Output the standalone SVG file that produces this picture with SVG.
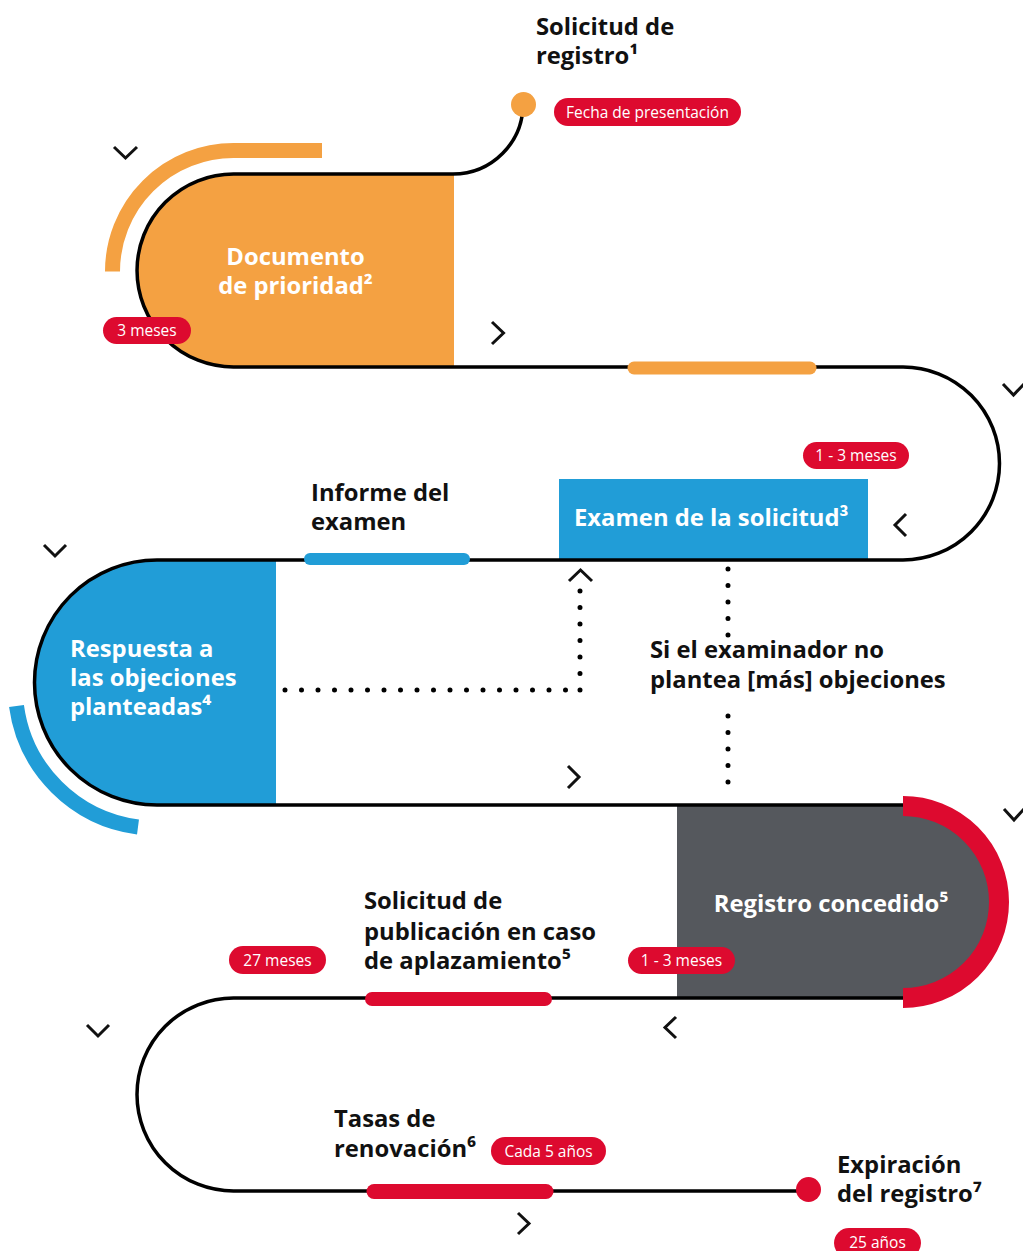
<svg xmlns="http://www.w3.org/2000/svg" width="1023" height="1251" viewBox="0 0 1023 1251">
<style>
.lbl{font-family:"Open Sans","Noto Sans","Liberation Sans",sans-serif;font-weight:bold;font-size:23.8px;fill:#111}
.wl{font-family:"Open Sans","Noto Sans","Liberation Sans",sans-serif;font-weight:bold;font-size:23.8px;fill:#fff}
.pt{font-family:"Open Sans","Noto Sans","Liberation Sans",sans-serif;font-size:15.5px;fill:#fff;text-anchor:middle}
.pill{fill:#DD0A2F}
.chev{fill:none;stroke:#111;stroke-width:3}
.track{fill:none;stroke:#000;stroke-width:3.5}
.dots{fill:none;stroke:#000;stroke-width:5;stroke-linecap:round;stroke-dasharray:0 16.5}
.bar{fill:none;stroke-linecap:round}
</style>
<rect width="1023" height="1251" fill="#fff"/>

<!-- node fills -->
<g id="documento">
  <path d="M454 174 L233.5 174 A96.5 96.5 0 0 0 233.5 367 L454 367 Z" fill="#F4A142"/>
  <path d="M322 150.5 L233.5 150.5 A121 121 0 0 0 112.5 271.5" fill="none" stroke="#F4A142" stroke-width="15"/>
</g>
<g id="examen">
  <rect x="559" y="479" width="309" height="81" fill="#219DD7"/>
</g>
<g id="respuesta">
  <path d="M276 560 L157 560 A122.5 122.5 0 0 0 157 805 L276 805 Z" fill="#219DD7"/>
  <path d="M16.5 706 A141 141 0 0 0 138 827" fill="none" stroke="#219DD7" stroke-width="15"/>
</g>
<g id="registro">
  <path d="M677 805 L903 805 A96.5 96.5 0 0 1 903 998 L677 998 Z" fill="#55585D"/>
</g>

<!-- connectors -->
<g id="connectors">
  <path class="track" d="M523 104 A70 70 0 0 1 453 174 L233.5 174 A96.5 96.5 0 0 0 233.5 367 L903 367 A96.5 96.5 0 0 1 903 560 L157 560 A122.5 122.5 0 0 0 157 805 L903 805 A96.5 96.5 0 0 1 903 998 L233.5 998 A96.5 96.5 0 0 0 233.5 1191 L808 1191"/>
  <path class="dots" d="M285 690 L580 690"/>
  <path class="dots" d="M580 690 L580 590"/>
  <path class="dots" d="M728 569 L728 636"/>
  <path class="dots" d="M728 716 L728 797"/>
  <polyline class="chev" points="114,147 125.5,158 137,147"/>
  <polyline class="chev" points="492,322 503.5,333 492,344"/>
  <polyline class="chev" points="1003,384 1013.5,395 1024,384"/>
  <polyline class="chev" points="906,514 895,525 906,536"/>
  <polyline class="chev" points="44,545 55,556 66,545"/>
  <polyline class="chev" points="569,581 580.5,570 592,581"/>
  <polyline class="chev" points="568,766 579,777 568,788"/>
  <polyline class="chev" points="1004,809 1014,820 1024,809"/>
  <polyline class="chev" points="676,1017 665,1027.5 676,1038"/>
  <polyline class="chev" points="87,1025 98,1036 109,1025"/>
  <polyline class="chev" points="518,1213 529,1223.5 518,1234"/>
</g>

<!-- arcs / bars over track -->
<g id="registro-arc">
  <path d="M903 806 A96 96 0 0 1 903 998" fill="none" stroke="#DD0A2F" stroke-width="20"/>
</g>
<g id="bars">
  <path class="bar" d="M634 368 L810 368" stroke="#F4A142" stroke-width="13"/>
  <path class="bar" d="M310 559 L464 559" stroke="#219DD7" stroke-width="12"/>
  <path class="bar" d="M372 999 L545 999" stroke="#DD0A2F" stroke-width="14"/>
  <path class="bar" d="M374 1191.5 L546 1191.5" stroke="#DD0A2F" stroke-width="15"/>
</g>

<g id="solicitud">
  <circle cx="523.5" cy="104.5" r="12.5" fill="#F4A142"/>
  <text class="lbl" x="536" y="35">Solicitud de</text>
  <text class="lbl" x="536" y="64">registro¹</text>
  <rect class="pill" x="554" y="98" width="187" height="28" rx="14"/>
  <text class="pt" x="647.5" y="117.5">Fecha de presentación</text>
</g>

<g id="documento-text">
  <text class="wl" x="295.5" y="265" text-anchor="middle">Documento</text>
  <text class="wl" x="295.5" y="294" text-anchor="middle">de prioridad²</text>
  <rect class="pill" x="103" y="317" width="88" height="27" rx="13.5"/>
  <text class="pt" x="147" y="336">3 meses</text>
</g>

<g id="examen-text">
  <rect class="pill" x="803" y="442" width="106" height="27" rx="13.5"/>
  <text class="pt" x="856" y="461">1 - 3 meses</text>
  <text class="wl" x="574" y="526">Examen de la solicitud³</text>
</g>

<g id="informe">
  <text class="lbl" x="311" y="501">Informe del</text>
  <text class="lbl" x="311" y="530">examen</text>
</g>

<g id="respuesta-text">
  <text class="wl" x="70" y="657">Respuesta a</text>
  <text class="wl" x="70" y="686">las objeciones</text>
  <text class="wl" x="70" y="715">planteadas⁴</text>
</g>

<g id="sin-objeciones">
  <text class="lbl" x="650" y="658">Si el examinador no</text>
  <text class="lbl" x="650" y="688">plantea [más] objeciones</text>
</g>

<g id="registro-text">
  <text class="wl" x="831" y="912" text-anchor="middle">Registro concedido⁵</text>
  <rect class="pill" x="628" y="947" width="107" height="27" rx="13.5"/>
  <text class="pt" x="681.5" y="966">1 - 3 meses</text>
</g>

<g id="publicacion">
  <text class="lbl" x="364" y="909">Solicitud de</text>
  <text class="lbl" x="364" y="940">publicación en caso</text>
  <text class="lbl" x="364" y="969">de aplazamiento⁵</text>
  <rect class="pill" x="229" y="946" width="97" height="28" rx="14"/>
  <text class="pt" x="277.5" y="965.5">27 meses</text>
</g>

<g id="tasas">
  <text class="lbl" x="334" y="1127">Tasas de</text>
  <text class="lbl" x="334" y="1157">renovación⁶</text>
  <rect class="pill" x="491" y="1137" width="115" height="28" rx="14"/>
  <text class="pt" x="548.5" y="1156.5">Cada 5 años</text>
</g>

<g id="expiracion">
  <circle cx="808.5" cy="1189.5" r="12.5" fill="#DD0A2F"/>
  <text class="lbl" x="837" y="1173">Expiración</text>
  <text class="lbl" x="837" y="1202">del registro⁷</text>
  <rect class="pill" x="834" y="1228" width="87" height="30" rx="15"/>
  <text class="pt" x="877.5" y="1248">25 años</text>
</g>
</svg>
